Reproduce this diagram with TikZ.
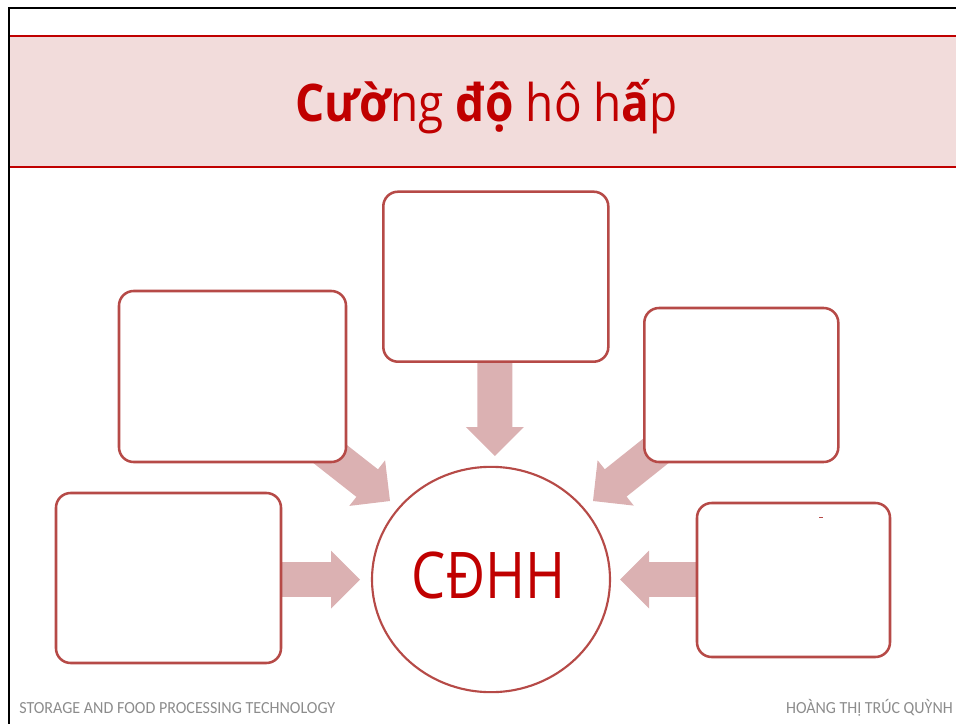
\documentclass[tikz,border=0pt]{standalone}
\usepackage{fontspec}
\usepackage{graphicx}
\setmainfont{Open Sans}
\newfontfamily\footfont{Carlito}
\usetikzlibrary{calc,shapes.geometric}
\definecolor{titlered}{RGB}{192,0,0}
\definecolor{bandfill}{RGB}{242,220,219}
\definecolor{boxline}{RGB}{182,74,71}
\definecolor{arrowfill}{RGB}{219,177,178}
\definecolor{footgray}{RGB}{140,140,140}
\newcommand\blockarr[2]{% #1 tail, #2 tip
  \coordinate (ah) at ($(#2)!21.75pt!(#1)$);
  \fill[arrowfill] (#2)
    -- ($(ah)!21.75pt!90:(#2)$)
    -- ($(ah)!13.1pt!90:(#2)$)
    -- ($(#1)!13.1pt!90:(#2)$)
    -- ($(#1)!13.1pt!-90:(#2)$)
    -- ($(ah)!13.1pt!-90:(#2)$)
    -- ($(ah)!21.75pt!-90:(#2)$) -- cycle;}
\tikzset{
  rbox/.style={draw=boxline, line width=1.9pt, fill=white, rounded corners=11pt,
    inner sep=0pt, minimum width=#1},
  foot/.style={text=footgray, inner sep=0pt, font=\footfont\fontsize{12.7pt}{14pt}\selectfont},
}
\begin{document}
\begin{tikzpicture}[x=0.75pt,y=-0.75pt]
\useasboundingbox (0,0) rectangle (956,724);
% frame
\draw[black, line width=1.5pt] (9,724) -- (9,8.3) -- (956,8.3);
% title band
\fill[bandfill] (10,36) rectangle (956,167);
\draw[titlered, line width=1.2pt] (10,36) -- (956,36);
\draw[titlered, line width=1.2pt] (10,167) -- (956,167);
\node[anchor=base, text=titlered, inner sep=0pt] (title) at (486.5,122)
  {\resizebox{287pt}{\height}{\fontsize{38.9pt}{44pt}\selectfont{\bfseries Cườ}ng {\bfseries độ} hô h{\bfseries ấ}p}};
% arrow end points
\coordinate (t1) at (494.8,350);  \coordinate (p1) at (494.8,456);
\coordinate (t2) at (311,439);    \coordinate (p2) at (390,501);
\coordinate (t3) at (672,438);    \coordinate (p3) at (593,501);
\coordinate (t4) at (270,579.5);  \coordinate (p4) at (360,579.5);
\coordinate (t5) at (708,579.5);  \coordinate (p5) at (620,579.5);
\blockarr{t1}{p1}
\blockarr{t2}{p2}
\blockarr{t3}{p3}
\blockarr{t4}{p4}
\blockarr{t5}{p5}
% boxes
\node[rbox=168.75pt, minimum height=127.5pt] (b1) at (495.8,276.7) {};
\node[rbox=170.25pt, minimum height=128.25pt] (b2) at (232.5,376.5) {};
\node[rbox=145.5pt, minimum height=115.5pt] (b3) at (741.3,385) {};
\node[rbox=168.75pt, minimum height=127.5pt] (b4) at (168.5,578) {};
\node[rbox=144.75pt, minimum height=115.5pt] (b5) at (793.5,580) {};
\draw[boxline, line width=0.6pt] (819,517) -- (823,517);
% centre
\node[ellipse, draw=boxline, line width=1.6pt, fill=white, inner sep=0pt,
  minimum width=178.5pt, minimum height=169pt] (c) at (491,579.5) {};
\node[anchor=base, text=titlered, inner sep=0pt] (ctext) at (488.5,598)
  {\resizebox{115pt}{\height}{\fontsize{48.3pt}{52pt}\selectfont CĐHH}};
% footer
\node[foot, anchor=base west] (fl) at (19,713)
  {\resizebox{237pt}{\height}{STORAGE AND FOOD PROCESSING TECHNOLOGY}};
\node[foot, anchor=base east] (fr) at (953,713)
  {\resizebox{125pt}{\height}{HOÀNG THỊ TRÚC QUỲNH}};
\end{tikzpicture}
\end{document}
